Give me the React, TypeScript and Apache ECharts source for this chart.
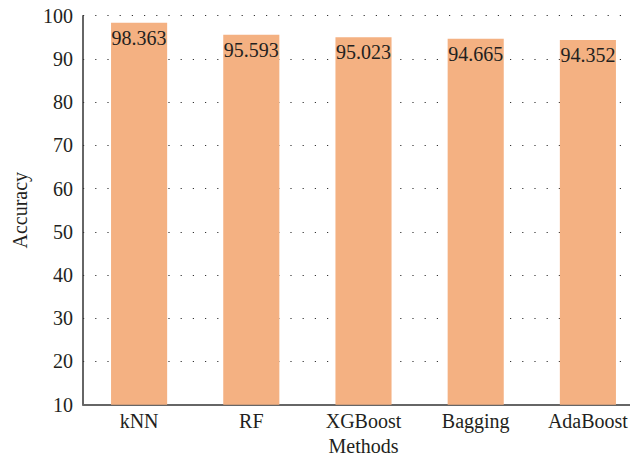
import React, { useEffect, useRef } from "react";
import * as echarts from "echarts";

const categories = ["kNN", "RF", "XGBoost", "Bagging", "AdaBoost"];
const accuracy = [98.363, 95.593, 95.023, 94.665, 94.352];
const yMin = 10;
const yMax = 100;
const yInterval = 10;

const FONT = "'Liberation Serif', 'Times New Roman', serif";
const TEXT = "#231f20";

export default function App() {
  const ref = useRef<HTMLDivElement>(null);
  useEffect(() => {
    if (!ref.current) return;
    const chart = echarts.init(ref.current, undefined, { renderer: "svg" });
    chart.setOption({
      animation: false,
      textStyle: { fontFamily: FONT },
      grid: {
        left: 83,
        top: 15.7,
        width: 561,
        height: 389,
        containLabel: false,
        outerBoundsMode: "none",
      },
      xAxis: {
        type: "category",
        data: categories,
        name: "Methods",
        nameLocation: "middle",
        nameGap: 31,
        nameTextStyle: { fontFamily: FONT, fontSize: 20, lineHeight: 20, color: TEXT },
        axisLine: { show: true, lineStyle: { color: "#666", width: 2 } },
        axisTick: { show: false },
        axisLabel: { fontFamily: FONT, fontSize: 20, lineHeight: 20, color: TEXT, margin: 6 },
        splitLine: { show: false },
      },
      yAxis: {
        type: "value",
        min: yMin,
        max: yMax,
        interval: yInterval,
        name: "Accuracy",
        nameLocation: "middle",
        nameGap: 53,
        nameTextStyle: { fontFamily: FONT, fontSize: 20, color: TEXT },
        axisLine: { show: true, lineStyle: { color: "#333", width: 1.5 } },
        axisTick: { show: false },
        axisLabel: { fontFamily: FONT, fontSize: 20, color: TEXT, margin: 10 },
        splitLine: {
          show: true,
          lineStyle: { color: "#333", width: 1, type: [1.2, 11] },
        },
      },
      series: [
        {
          type: "bar",
          data: accuracy,
          barCategoryGap: "50%",
          itemStyle: { color: "#f4b182" },
          label: {
            show: true,
            position: "insideTop",
            distance: 5,
            fontFamily: FONT,
            fontSize: 20,
            color: TEXT,
            formatter: (p: any) => p.value.toFixed(3),
          },
        },
      ],
    });
    return () => chart.dispose();
  }, []);
  return (
    <div
      style={{
        position: "absolute",
        left: 0,
        top: 0,
        width: 630,
        height: 460,
        overflow: "hidden",
      }}
    >
      <div ref={ref} style={{ width: 720, height: 460 }} />
    </div>
  );
}
